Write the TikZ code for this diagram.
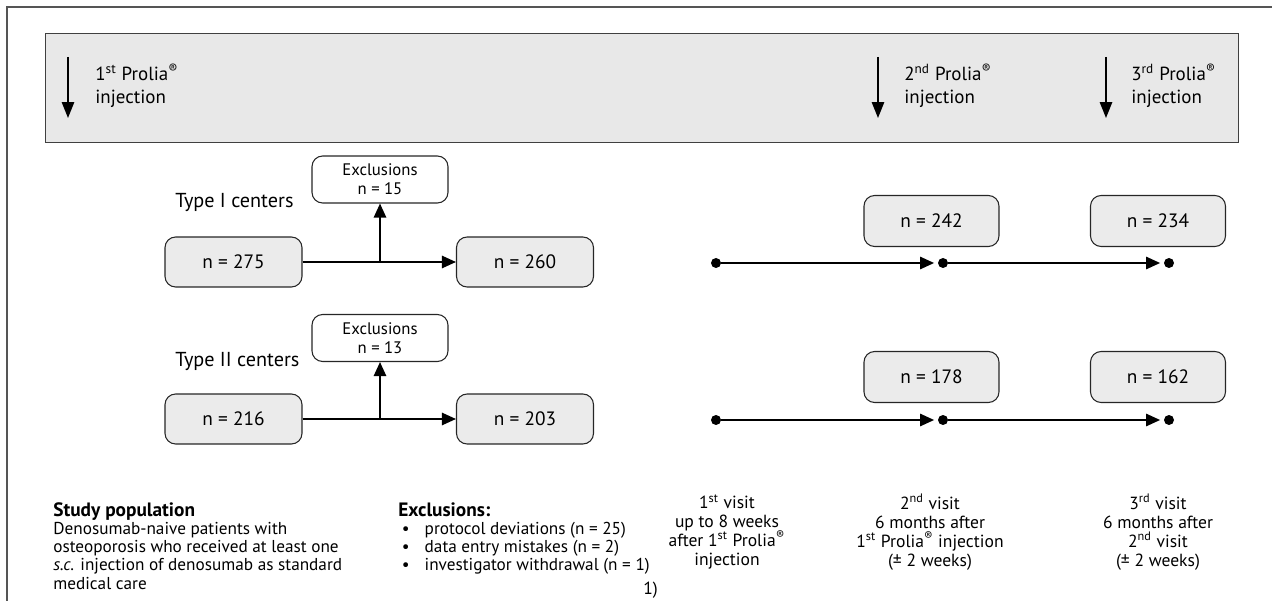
\documentclass[tikz,border=0pt]{standalone}
\usepackage{fontspec}
\setmainfont{PT Sans}
\usetikzlibrary{arrows.meta,positioning}
\definecolor{bandgray}{HTML}{E8E8E8}
\definecolor{boxgray}{HTML}{EBEBEB}
\definecolor{framegray}{HTML}{555555}
\newcommand{\prolia}{Prolia\textsuperscript{®}}
\newcommand{\itembul}{\hspace*{2pt}\makebox[13pt][l]{\textbullet}}
\tikzset{
  countbox/.style={draw=black!85, fill=boxgray, rounded corners=6pt, line width=0.6pt,
    minimum width=2.74cm, minimum height=1cm, font=\fontsize{11}{13}\selectfont},
  exclbox/.style={draw=black!85, fill=white, rounded corners=6pt, line width=0.6pt,
    minimum width=2.72cm, minimum height=0.94cm, inner sep=0pt, align=center,
    font=\fontsize{9.5}{11}\selectfont},
  flow/.style={line width=1.1pt, -{Triangle[width=7pt,length=8pt]}},
  dot/.style={circle, fill=black, inner sep=0pt, minimum size=0.2cm},
  inj/.style={line width=0.9pt, -{Triangle[width=7pt,length=9pt]}},
  injtext/.style={anchor=west, align=left, inner sep=0pt, font=\fontsize{10.8}{13}\selectfont},
  centertext/.style={anchor=base west, inner sep=0pt, font=\fontsize{11.5}{13}\selectfont},
  visittext/.style={anchor=north, align=center, inner sep=0pt, font=\fontsize{10}{10.8}\selectfont},
  notetext/.style={anchor=north west, align=left, inner sep=0pt, font=\fontsize{9.8}{10.4}\selectfont},
}
\begin{document}
\begin{tikzpicture}[x=0.02cm,y=-0.02cm]
  \useasboundingbox (0,0) rectangle (1272,601);
  % frame and timeline band
  \draw[framegray, line width=0.6pt] (7,601) -- (7,7) -- (1272,7);
  \draw[black!75, fill=bandgray, line width=0.5pt] (45,33) rectangle (1238,142);

  % injections
  \coordinate (i1s) at (68,57);   \coordinate (i1e) at (68,118);
  \coordinate (i2s) at (878,57);  \coordinate (i2e) at (878,118);
  \coordinate (i3s) at (1106,57); \coordinate (i3e) at (1106,118);
  \draw[inj] (i1s) -- (i1e);
  \draw[inj] (i2s) -- (i2e);
  \draw[inj] (i3s) -- (i3e);
  \node[injtext] (inj1) at (95,86) {1\textsuperscript{st} \prolia\\injection};
  \node[injtext] (inj2) at (904,86) {2\textsuperscript{nd} \prolia\\injection};
  \node[injtext] (inj3) at (1131,86) {3\textsuperscript{rd} \prolia\\injection};

  % type I centers
  \node[centertext] (typeI) at (175,208) {Type I centers};
  \node[exclbox] (exI) at (380,179.5) {Exclusions\\n = 15};
  \node[countbox] (nI0) at (233.5,262) {n = 275};
  \node[countbox] (nI1) at (525,262) {n = 260};
  \coordinate (jI) at (exI.south |- nI0.east);
  \draw[flow] (nI0) -- (nI1);
  \draw[flow] (jI) -- (exI);

  % type II centers
  \node[centertext] (typeII) at (175,367) {Type II centers};
  \node[exclbox] (exII) at (380,338) {Exclusions\\n = 13};
  \node[countbox] (nII0) at (233.5,419) {n = 216};
  \node[countbox] (nII1) at (525,419) {n = 203};
  \coordinate (jII) at (exII.south |- nII0.east);
  \draw[flow] (nII0) -- (nII1);
  \draw[flow] (jII) -- (exII);

  % visits, type I
  \node[dot] (vI1) at (716,263) {};
  \node[dot] (vI2) at (943,263) {};
  \node[dot] (vI3) at (1169,263) {};
  \node[countbox, minimum width=2.7cm, minimum height=1.02cm] (nI2) at (931.5,221) {n = 242};
  \node[countbox, minimum width=2.7cm, minimum height=1.02cm] (nI3) at (1158,221) {n = 234};
  \draw[flow, shorten >=2pt] (vI1) -- (vI2);
  \draw[flow, shorten >=2pt] (vI2) -- (vI3);

  % visits, type II
  \node[dot] (vII1) at (716,420) {};
  \node[dot] (vII2) at (943,420) {};
  \node[dot] (vII3) at (1169,420) {};
  \node[countbox, minimum width=2.7cm, minimum height=1.02cm] (nII2) at (931.5,377) {n = 178};
  \node[countbox, minimum width=2.7cm, minimum height=1.02cm] (nII3) at (1158,377) {n = 162};
  \draw[flow, shorten >=2pt] (vII1) -- (vII2);
  \draw[flow, shorten >=2pt] (vII2) -- (vII3);

  % notes
  \node[notetext] (study) at (53,502) {{\bfseries\fontsize{11}{10.4}\selectfont Study population}\\
    Denosumab-naive patients with\\
    osteoporosis who received at least one\\
    \textit{s.c.} injection of denosumab as standard\\
    medical care};
  \node[notetext] (excl) at (398,502) {{\bfseries\fontsize{11}{10.4}\selectfont Exclusions:}\\
    \itembul protocol deviations (n = 25)\\
    \itembul data entry mistakes (n = 2)\\
    \itembul investigator withdrawal (n = 1)};
  \node[visittext] (visit1) at (727,494) {1\textsuperscript{st} visit\\up to 8 weeks\\after 1\textsuperscript{st} \prolia\\injection};
  \node[visittext] (visit2) at (930,494) {2\textsuperscript{nd} visit\\6 months after\\1\textsuperscript{st} \prolia{} injection\\(± 2 weeks)};
  \node[visittext] (visit3) at (1158,494) {3\textsuperscript{rd} visit\\6 months after\\2\textsuperscript{nd} visit\\(± 2 weeks)};
  \node[anchor=west, inner sep=0pt, font=\fontsize{10}{11}\selectfont] (fn) at (643,590) {1)};
\end{tikzpicture}
\end{document}
